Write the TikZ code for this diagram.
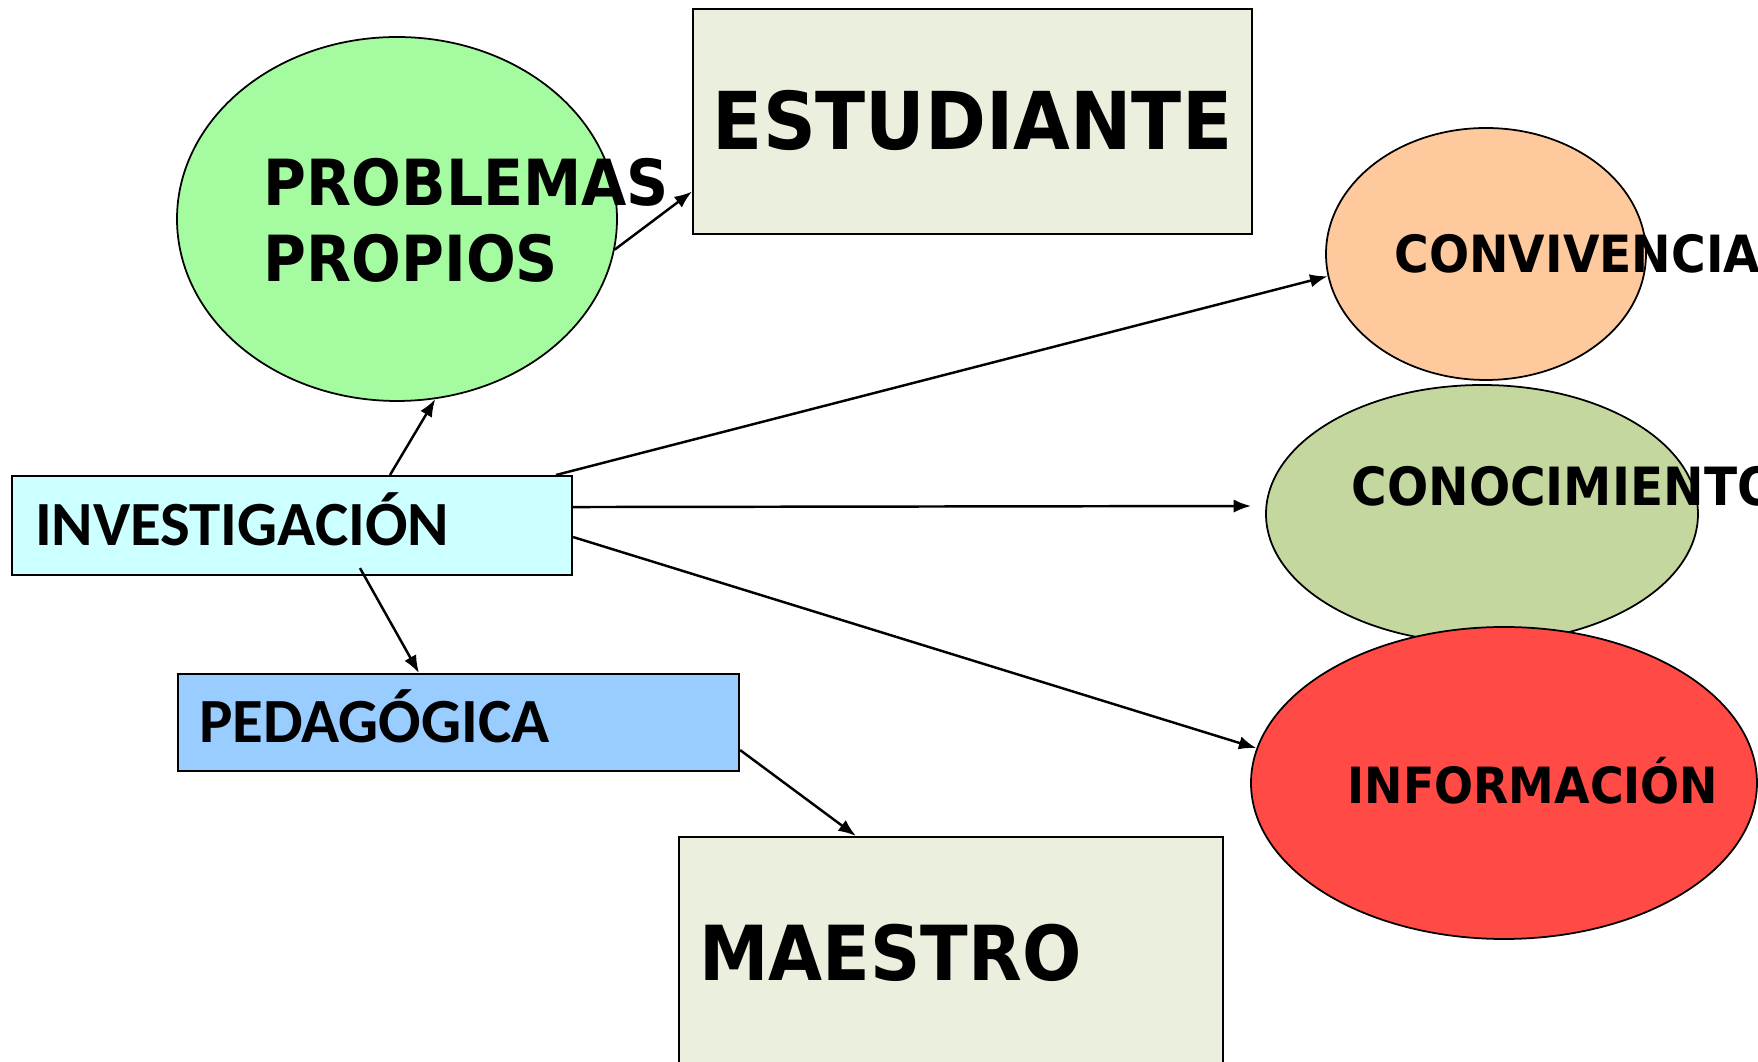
\documentclass[tikz,border=0pt]{standalone}
\usepackage{fontspec}
\usepackage{tikz}
\usetikzlibrary{arrows.meta,calc,positioning,shapes.geometric}
\newfontfamily\anchafont[FakeStretch=0.92]{DejaVu Sans}
\newfontfamily\calfont{Carlito}
\definecolor{verdeprob}{HTML}{A5FB9F}
\definecolor{crema}{HTML}{EBEFDE}
\definecolor{durazno}{HTML}{FDC99D}
\definecolor{oliva}{HTML}{C4D79E}
\definecolor{rojoinfo}{HTML}{FF4A45}
\definecolor{celeste}{HTML}{CCFFFF}
\definecolor{azulped}{HTML}{99CCFF}
\tikzstyle{flecha}=[
  draw=black,
  line width=0.7pt,
]
\tikzstyle{caja}=[
  draw=black,
  line width=0.6pt,
  anchor=north west,
  inner ysep=0pt,
]
\tikzstyle{globo}=[
  ellipse,
  draw=black,
  line width=0.5pt,
  inner sep=0pt,
]
\tikzset{
  >={Latex[length=5pt,width=3.8pt]},
  rotulo/.style={inner sep=0pt},
}

\begin{document}
\begin{tikzpicture}[x=0.1mm,y=-0.1mm]
  \useasboundingbox (0,0) rectangle (1758,1062);
  % elipses
  \node[globo, fill=verdeprob, minimum width=44mm, minimum height=36.4mm] (problemas) at (397,219) {};
  \node[globo, fill=durazno, minimum width=32mm, minimum height=25.2mm] (convivencia) at (1486,254) {};
  \node[globo, fill=oliva, minimum width=43.2mm, minimum height=25.8mm] (conocimiento) at (1482,514) {};
  \node[rotulo, anchor=base west, font=\anchafont\bfseries\fontsize{15pt}{18pt}\selectfont]
    (conocimientotxt) at (1351,506) {CONOCIMIENTO};
  \node[globo, fill=rojoinfo, minimum width=50.6mm, minimum height=31.2mm] (informacion) at (1504,783) {};
  \node[rotulo, anchor=west, align=left, font=\anchafont\bfseries\fontsize{18.1pt}{21.6pt}\selectfont]
    (problemastxt) at (263,220) {PROBLEMAS\\PROPIOS};
  \node[rotulo, anchor=base west, font=\anchafont\bfseries\fontsize{14.6pt}{17pt}\selectfont]
    (convivenciatxt) at (1394,273) {CONVIVENCIA};
  \node[rotulo, anchor=base west, font=\anchafont\bfseries\fontsize{14.2pt}{17pt}\selectfont]
    (informaciontxt) at (1347,804) {INFORMACIÓN};
  % cajas
  \node[caja, fill=crema, minimum width=55.9mm, minimum height=22.5mm, text height=16pt, text depth=0pt,
    font=\anchafont\bfseries\fontsize{22.7pt}{27pt}\selectfont] (estudiante) at (692,8) {ESTUDIANTE};
  \node[caja, fill=celeste, minimum height=9.9mm, inner xsep=2.3mm, text width=51.4mm, align=left,
    text height=11.5pt, text depth=0pt, font=\calfont\bfseries\fontsize{17.9pt}{21pt}\selectfont]
    (investigacion) at (11,475) {INVESTIGACIÓN};
  \node[caja, fill=azulped, minimum height=9.7mm, inner xsep=2.1mm, text width=51.9mm, align=left,
    text height=11.5pt, text depth=0pt, font=\calfont\bfseries\fontsize{17.9pt}{21pt}\selectfont]
    (pedagogica) at (177,673) {PEDAGÓGICA};
  \node[caja, fill=crema, minimum height=23.2mm, inner xsep=2mm, text width=50.4mm, align=left,
    text height=15.7pt, text depth=0pt, font=\anchafont\bfseries\fontsize{21.6pt}{26pt}\selectfont]
    (maestro) at (678,836) {MAESTRO};
  % conectores
  \draw[flecha,->] (problemas.-8) -- ([yshift=-7mm]estudiante.west);
  \draw[flecha,->] ([xshift=37.9mm]investigacion.north west) -- (problemas.-78);
  \draw[flecha,->] ([xshift=54.5mm]investigacion.north west) -- (convivencia.188);
  \draw[flecha,->,shorten >=1.4mm] ([yshift=1.85mm]investigacion.east) -- ([yshift=0.8mm]conocimiento.west);
  \draw[flecha,->] ([yshift=-1.15mm]investigacion.east) -- (informacion.172);
  \draw[flecha,->] ([xshift=34.9mm,yshift=0.8mm]investigacion.south west) -- ([xshift=24.2mm]pedagogica.north west);
  \draw[flecha,->] ([yshift=-2.75mm]pedagogica.east) -- ([xshift=17.8mm]maestro.north west);
\end{tikzpicture}
\end{document}
